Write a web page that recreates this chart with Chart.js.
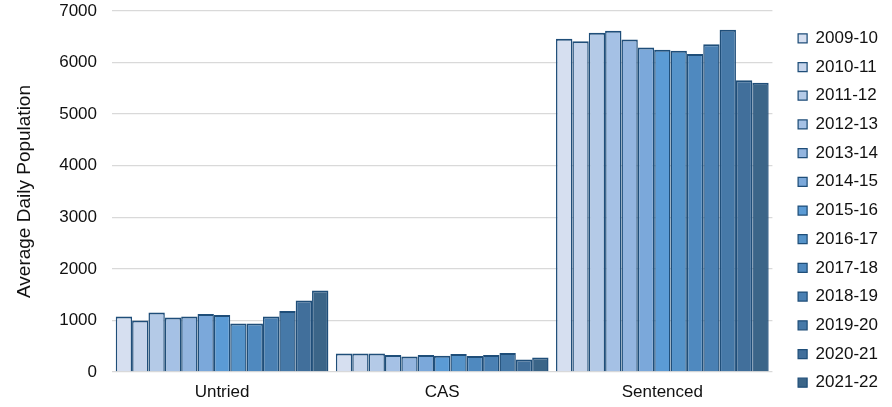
<!DOCTYPE html>
<html>
<head>
<meta charset="utf-8">
<script src="https://cdn.jsdelivr.net/npm/chart.js@4.4.1/dist/chart.umd.min.js"></script>
<style>
  html, body { margin: 0; padding: 0; background: #fff; }
  #wrap { width: 892px; height: 407px; position: relative; }
</style>
</head>
<body>
<div id="wrap"><canvas id="myChart"></canvas></div>
<script>
//// DATOS
var categorias = ["Untried", "CAS", "Sentenced"];
var anios = ["2009-10", "2010-11", "2011-12", "2012-13", "2013-14", "2014-15", "2015-16",
             "2016-17", "2017-18", "2018-19", "2019-20", "2020-21", "2021-22"];
var untried   = [1077, 1000, 1155, 1058, 1077, 1124, 1105, 942, 942, 1077, 1182, 1388, 1581];
var cas       = [360, 360, 360, 329, 302, 329, 316, 349, 310, 329, 368, 244, 283];
var sentenced = [6463, 6412, 6580, 6618, 6445, 6290, 6250, 6230, 6167, 6354, 6638, 5656, 5610];
var ticks_y = [0, 1000, 2000, 3000, 4000, 5000, 6000, 7000];

var colores = ["#d6dff0", "#c5d4eb", "#b4cae7", "#a5c1e5", "#93b5df", "#7ba8da", "#5b9bd5",
               "#5593c9", "#4f89bf", "#4a80b3", "#4679a8", "#416f9b", "#3b6588"];
var borde = "#1f4e79";
var fuente = "'Liberation Sans', Arial, sans-serif";
var texto = "#111";

///// UN DATASET POR AÑO
var datasets = [];
for (var i = 0; i < anios.length; i++) {
  datasets.push({
    label: anios[i],
    data: [untried[i], cas[i], sentenced[i]],
    backgroundColor: colores[i],
    borderColor: borde,
    borderWidth: { top: 2, left: 1.5, right: 1.5, bottom: 0 },
    borderSkipped: false,
    barPercentage: 1.0,
    categoryPercentage: 0.966
  });
}

///// mover la leyenda a la derecha, como en el original
var moverLeyenda = {
  id: "moverLeyenda",
  afterLayout: function (chart) {
    chart.legend.left += 14;
    chart.legend.right += 14;
    chart.legend.top += 1.5;
    chart.legend.bottom += 1.5;
  }
};

var ctx = document.getElementById("myChart").getContext("2d");
var myChart = new Chart(ctx, {
  type: "bar",
  data: { labels: categorias, datasets: datasets },
  plugins: [moverLeyenda],
  options: {
    responsive: true,
    maintainAspectRatio: false,
    animation: false,
    layout: { padding: { left: 0, top: 11, right: 18, bottom: 0 } },
    plugins: {
      tooltip: { enabled: false },
      legend: {
        position: "right",
        align: "center",
        labels: {
          font: { family: fuente, size: 17 },
          color: texto,
          boxWidth: 9,
          boxHeight: 9,
          padding: 11.7
        }
      }
    },
    scales: {
      x: {
        grid: { display: false, drawTicks: false },
        border: { display: false },
        ticks: { font: { family: fuente, size: 17 }, color: texto, padding: 10 },
        afterFit: function (axis) { axis.height = 35; }
      },
      y: {
        min: 0,
        max: 7000,
        afterBuildTicks: function (axis) {
          axis.ticks = ticks_y.map(function (v) { return { value: v }; });
        },
        afterFit: function (axis) {
          axis.width = 112;
          axis.paddingTop = 0;
          axis.paddingBottom = 0;
        },
        grid: { color: "#d9d9d9", lineWidth: 1.3, drawTicks: false },
        border: { display: false },
        ticks: {
          font: { family: fuente, size: 17 },
          color: texto,
          padding: 15,
          callback: function (v) { return String(v); }
        },
        title: {
          display: true,
          text: "Average Daily Population",
          font: { family: fuente, size: 19 },
          color: texto,
          padding: { top: 13, bottom: 4 }
        }
      }
    }
  }
});
</script>
</body>
</html>
